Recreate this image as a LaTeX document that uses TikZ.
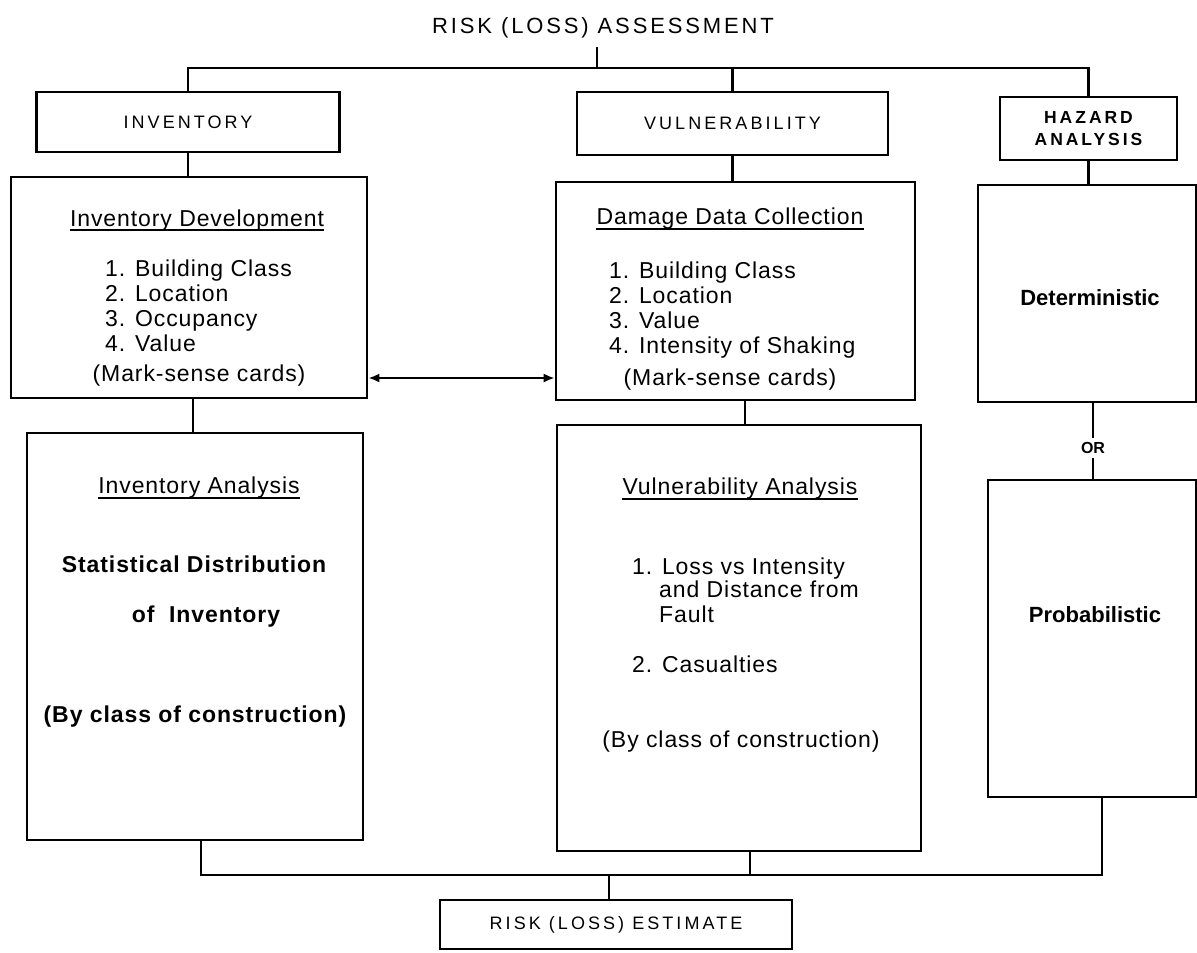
\documentclass[tikz,border=0pt]{standalone}
\usepackage{fontspec}
\setmainfont{Liberation Sans}
\newfontfamily\titlefont{Liberation Sans}[LetterSpace=13]
\newfontfamily\capsfont{Liberation Sans}[LetterSpace=17]
\newfontfamily\bodyfont{Liberation Sans}[LetterSpace=4]
\usetikzlibrary{arrows.meta}
\begin{document}
\begin{tikzpicture}[x=1pt,y=-1pt,
  box/.style={draw, line width=2.6pt, inner sep=0pt, align=center},
  conn/.style={line width=2.6pt},
  capslbl/.style={font=\capsfont\fontsize{18}{22}\selectfont},
  txt/.style={inner sep=0pt, anchor=base, font=\bodyfont\fontsize{23}{25}\selectfont},
  txtl/.style={txt, anchor=base west},
  btxt/.style={txt, font=\bodyfont\bfseries\fontsize{23}{25}\selectfont},
  bigb/.style={inner sep=0pt, anchor=base, font=\bfseries\fontsize{22}{26}\selectfont},
  uline/.style={line width=1.5pt},
  dblarrow/.style={line width=2.4pt, {Latex[length=11pt,width=9pt]}-{Latex[length=11pt,width=9pt]}}
]
\useasboundingbox (0,0) rectangle (1197,953);

% title
\node[anchor=base, inner sep=0pt, font=\titlefont\fontsize{22}{26}\selectfont] (ttl) at (603,33) {RISK (LOSS) ASSESSMENT};

% top row boxes
\node[box, capslbl, minimum width=303pt, minimum height=60pt] (inv) at (188,122) {INVENTORY};
\node[box, capslbl, minimum width=311pt, minimum height=63pt] (vul) at (732.5,123.5) {VULNERABILITY};
\node[box, font=\capsfont\bfseries\fontsize{17.5}{22}\selectfont, minimum width=177pt, minimum height=63pt] (haz) at (1088.5,128.5) {HAZARD\\ANALYSIS};

% second row boxes
\node[box, minimum width=356pt, minimum height=221pt] (idev) at (189,287.5) {};
\node[box, minimum width=359pt, minimum height=218pt] (ddc) at (735.5,291) {};
\node[box, minimum width=218pt, minimum height=217pt] (det) at (1087,293.5) {};

% third row boxes
\node[box, minimum width=336pt, minimum height=407pt] (ian) at (195,636.5) {};
\node[box, minimum width=364pt, minimum height=426pt] (van) at (739,638) {};
\node[box, minimum width=208pt, minimum height=317pt] (prob) at (1092,638.5) {};

% estimate
\node[box, capslbl, minimum width=352pt, minimum height=49pt] (est) at (616,924.5) {RISK (LOSS) ESTIMATE};

% Inventory Development texts
\node[txt] (idt) at (197,226) {Inventory Development};
\draw[uline] ([yshift=-4pt]idt.base west) -- ([yshift=-4pt]idt.base east);
\node[txtl] (id1) at (105,276) {1. Building Class};
\node[txtl] (id2) at (105,301) {2. Location};
\node[txtl] (id3) at (105,326) {3. Occupancy};
\node[txtl] (id4) at (105,351) {4. Value};
\node[txt] (idm) at (199,381) {(Mark-sense cards)};

% Damage Data Collection texts
\node[txt] (ddt) at (730,224) {Damage Data Collection};
\draw[uline] ([yshift=-5pt]ddt.base west) -- ([yshift=-5pt]ddt.base east);
\node[txtl] (dd1) at (609,278) {1. Building Class};
\node[txtl] (dd2) at (609,303) {2. Location};
\node[txtl] (dd3) at (609,328) {3. Value};
\node[txtl] (dd4) at (609,353) {4. Intensity of Shaking};
\node[txt] (ddm) at (730,385) {(Mark-sense cards)};

% Hazard texts
\node[bigb] (dett) at (1090,305) {Deterministic};
\node[inner sep=4pt, font=\bfseries\fontsize{16}{18}\selectfont] (orl) at (1093,448) {OR};
\node[bigb] (probt) at (1095,622) {Probabilistic};

% Inventory Analysis texts
\node[txt] (iat) at (199,493) {Inventory Analysis};
\draw[uline] ([yshift=-5pt]iat.base west) -- ([yshift=-5pt]iat.base east);
\node[btxt] (ia1) at (194,572) {Statistical Distribution};
\node[btxt] (ia2) at (206,622) {of\ \ Inventory};
\node[btxt] (ia3) at (195,722) {(By class of construction)};

% Vulnerability Analysis texts
\node[txt] (vat) at (740,494) {Vulnerability Analysis};
\draw[uline] ([yshift=-5pt]vat.base west) -- ([yshift=-5pt]vat.base east);
\node[txtl] (va1) at (632,574) {1. Loss vs Intensity};
\node[txtl] (va2) at (659,597) {and Distance from};
\node[txtl] (va3) at (659,622) {Fault};
\node[txtl] (va4) at (632,672) {2. Casualties};
\node[txt] (va5) at (741,747) {(By\ class\ of construction)};

% connectors: top
\coordinate (tl) at (597,47);
\coordinate (busT) at (0,68);
\draw[conn] (tl) -- (tl |- busT);
\draw[conn] (inv.north) -- (inv.north |- busT) -- (haz.north |- busT) -- (haz.north);
\draw[conn] (vul.north) -- (vul.north |- busT);
\draw[conn] (inv.south) -- (inv.south |- idev.north);
\draw[conn] (vul.south) -- (vul.south |- ddc.north);
\draw[conn] (haz.south) -- (haz.south |- det.north);

% connectors: middle
\coordinate (c1) at (193,0);
\coordinate (c2) at (745,0);
\draw[conn] (idev.south -| c1) -- (ian.north -| c1);
\draw[conn] (ddc.south -| c2) -- (van.north -| c2);
\draw[conn] (det.south -| orl) -- (orl.north);
\draw[conn] (orl.south) -- (prob.north -| orl);
\coordinate (ar) at (0,378);
\draw[dblarrow] (idev.east |- ar) -- (ddc.west |- ar);

% connectors: bottom
\coordinate (bL) at (201,875);
\coordinate (bV) at (750,875);
\coordinate (bR) at (1102,875);
\coordinate (bE) at (609,875);
\draw[conn] (ian.south -| bL) -- (bL) -- (bR) -- (prob.south -| bR);
\draw[conn] (van.south -| bV) -- (bV);
\draw[conn] (bE) -- (est.north -| bE);
\end{tikzpicture}
\end{document}
